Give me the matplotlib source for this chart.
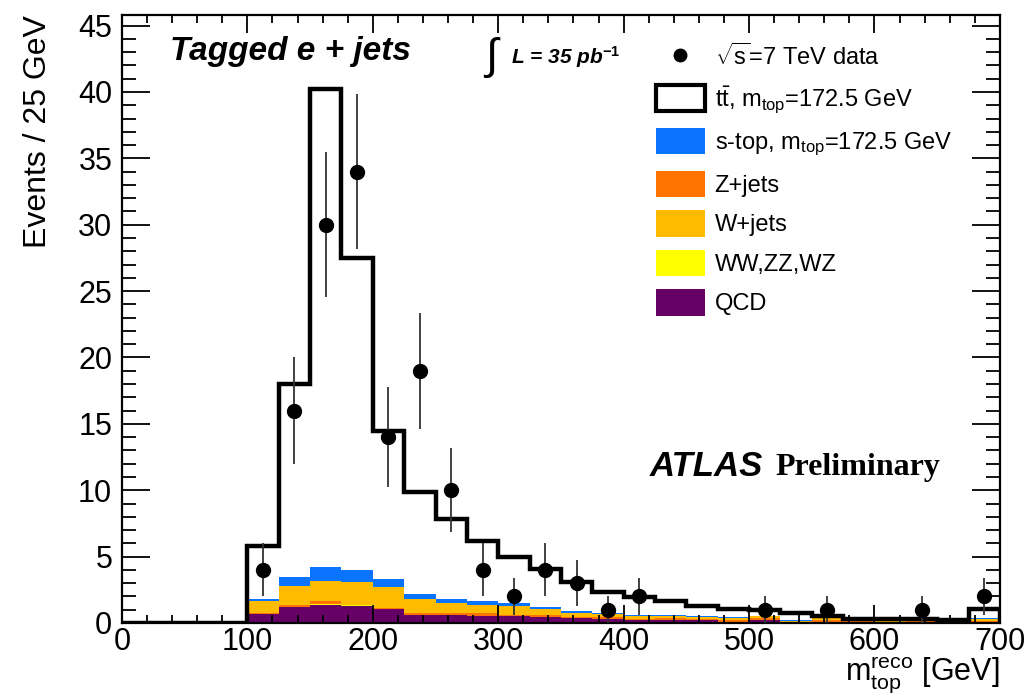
import numpy as np
import matplotlib
matplotlib.use('Agg')
import matplotlib.pyplot as plt
from matplotlib.patches import Patch
from matplotlib.lines import Line2D
from matplotlib.ticker import MultipleLocator

plt.rcParams['font.family'] = ['Liberation Sans', 'DejaVu Sans']
plt.rcParams['mathtext.fontset'] = 'custom'
plt.rcParams['mathtext.rm'] = 'Liberation Sans'
plt.rcParams['mathtext.it'] = 'Liberation Sans:italic'
plt.rcParams['mathtext.bf'] = 'Liberation Sans:bold'

# bin edges 0..700 GeV, 25 GeV wide (first 4 bins empty)
edges = np.arange(0, 725, 25)

# background components per bin (100-700 GeV)
qcd = [0.68, 1.19, 1.39, 1.31, 1.06, 0.60, 0.60, 0.50, 0.50, 0.43, 0.35, 0.30,
       0.20, 0.20, 0.20, 0.10, 0.20, 0.05, 0.10, 0.10, 0.05, 0.05, 0.05, 0.10]
diboson = [0.02] * 12 + [0.01] * 12
zjets = [0.05, 0.15, 0.23, 0.06, 0.06, 0.11, 0.11, 0.21, 0.11, 0.15, 0.08, 0.11,
         0.09, 0.16, 0.09, 0.14, 0.19, 0.04, 0.09, 0.04, 0.04, 0.06, 0.04, 0.04]
wjets = [0.87, 1.39, 1.52, 1.69, 1.56, 1.09, 0.79, 0.66, 0.68, 0.46, 0.31, 0.25,
         0.25, 0.18, 0.15, 0.15, 0.10, 0.05, 0.18, 0.03, 0.05, 0.06, 0.05, 0.15]
stop = [0.20, 0.71, 1.04, 0.88, 0.63, 0.38, 0.30, 0.23, 0.18, 0.13, 0.12, 0.08,
        0.05, 0.05, 0.05, 0.02, 0.02, 0.05, 0.02, 0.04, 0.03, 0.02, 0.03, 0.10]
ttbar = [3.98, 14.54, 36.0, 23.54, 11.17, 7.70, 5.98, 4.58, 3.51, 2.91, 2.22, 1.54,
         1.35, 1.05, 0.75, 0.63, 0.43, 0.55, 0.10, 0.08, 0.12, 0.10, 0.07, 0.65]

# observed events per bin (0-700 GeV)
data = [0, 0, 0, 0, 4, 16, 30, 34, 14, 19, 10, 4, 2, 4, 3, 1, 2,
        0, 0, 0, 1, 0, 1, 0, 0, 1, 0, 2]

pad = [0, 0, 0, 0]
stack = [
    ('QCD', qcd, '#660066'),
    ('WW,ZZ,WZ', diboson, '#ffff00'),
    ('Z+jets', zjets, '#ff7300'),
    ('W+jets', wjets, '#ffbb00'),
    ('s-top', stop, '#0a74ff'),
]

fig = plt.figure(figsize=(10.3, 7), dpi=100)
ax = fig.add_axes([0.1184, 0.110, 0.8524, 0.8686])

base = np.zeros(len(edges) - 1)
for name, vals, col in stack:
    v = np.array(pad + vals, dtype=float)
    ax.stairs(base + v, edges, baseline=base.copy(), fill=True, color=col, lw=0)
    base = base + v

tt = np.array(pad + ttbar, dtype=float)
total = base + tt
ax.stairs(total, edges, baseline=base.copy(), fill=True, color='white', lw=0)
ax.stairs(total, edges, color='black', lw=3.2)

centers = 0.5 * (edges[:-1] + edges[1:])
d = np.array(data, dtype=float)
m = d > 0
ax.errorbar(centers[m], d[m], yerr=np.sqrt(d[m]), fmt='o', color='black',
            ecolor='#333333', elinewidth=1.3, markersize=10, capsize=0, zorder=5)

ax.set_xlim(0, 700)
ax.set_ylim(0, 45.8)
ax.xaxis.set_major_locator(MultipleLocator(100))
ax.xaxis.set_minor_locator(MultipleLocator(20))
ax.yaxis.set_major_locator(MultipleLocator(5))
ax.yaxis.set_minor_locator(MultipleLocator(1))
ax.tick_params(which='both', direction='in', top=True, right=True, labelsize=22, width=1.3)
ax.tick_params(axis='x', which='major', length=13, pad=3)
ax.tick_params(axis='x', which='minor', length=6)
ax.tick_params(axis='y', which='major', length=20, pad=7)
ax.tick_params(axis='y', which='minor', length=10)
for s in ax.spines.values():
    s.set_linewidth(1.6)

ax.set_ylabel('Events / 25 GeV', fontsize=23, loc='top', labelpad=18)
ax.set_xlabel('m$_{\\rm top}^{\\rm reco}$ [GeV]', fontsize=22, loc='right', labelpad=-1)

ax.text(0.055, 0.94, 'Tagged e + jets', transform=ax.transAxes, fontsize=24,
        fontweight='bold', fontstyle='italic', va='center')
ax.text(0.411, 0.93, '$\\int$', transform=ax.transAxes, fontsize=32, va='center')
ax.text(0.443, 0.93, 'L = 35 pb$^{\\mathbf{-1}}$', transform=ax.transAxes, fontsize=15,
        fontweight='bold', fontstyle='italic', va='center')
ax.text(0.601, 0.258, 'ATLAS', transform=ax.transAxes, fontsize=25,
        fontweight='bold', fontstyle='italic', va='center')
ax.text(0.744, 0.256, 'Preliminary', transform=ax.transAxes, fontsize=23,
        fontweight='bold', family='Liberation Serif', va='center')

handles = [
    Line2D([], [], marker='o', color='black', ls='none', markersize=9),
    Patch(facecolor='white', edgecolor='black', lw=3),
    Patch(facecolor='#0a74ff'),
    Patch(facecolor='#ff7300'),
    Patch(facecolor='#ffbb00'),
    Patch(facecolor='#ffff00'),
    Patch(facecolor='#660066'),
]
labels = ['$\\sqrt{\\rm s}$=7 TeV data', 't$\\bar{\\rm t}$, m$_{\\rm top}$=172.5 GeV',
          's-top, m$_{\\rm top}$=172.5 GeV', 'Z+jets', 'W+jets', 'WW,ZZ,WZ', 'QCD']
ax.legend(handles, labels, loc='upper left', bbox_to_anchor=(0.597, 0.968),
          frameon=False, fontsize=17, handlelength=2.1, handleheight=1.35,
          labelspacing=0.55, handletextpad=0.4, borderaxespad=0)

fig.savefig('out.png', dpi=100)
